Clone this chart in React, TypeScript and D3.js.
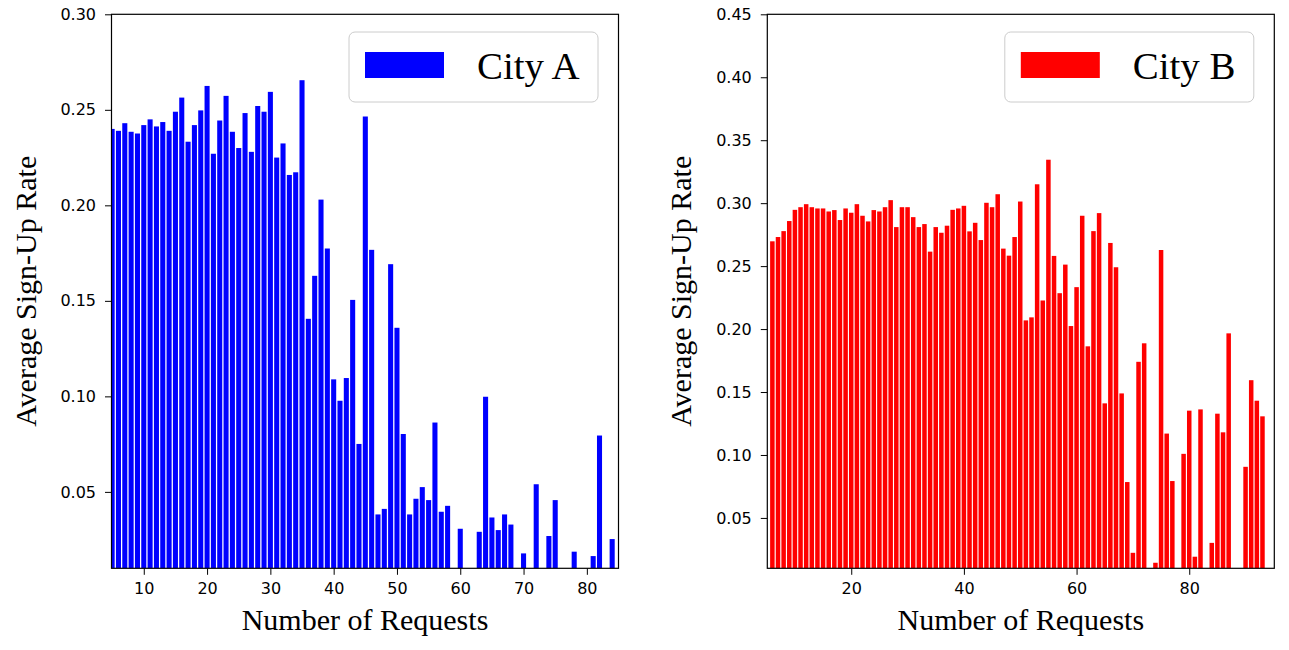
import { useRef, useEffect } from "react";
import * as d3 from "d3";

// requests on the x axis
const cityARequests = d3.range(5, 85);
const cityBRequests = d3.range(6, 94);

// average sign-up rate per request count (null = no bar)
const cityARates: (number | null)[] = [
    0.240, 0.239, 0.243, 0.2385, 0.2376, 0.242, 0.245, 0.2413, 0.2436, 0.239,
    0.249, 0.2564, 0.2333, 0.242, 0.2497, 0.2625, 0.227, 0.2444, 0.2573, 0.2385,
    0.230, 0.2483, 0.228, 0.252, 0.249, 0.2594, 0.225, 0.2324, 0.2159, 0.2173,
    0.2655, 0.1406, 0.1631, 0.203, 0.1774, 0.1089, 0.0977, 0.1096, 0.1505, 0.0751,
    0.2465, 0.1767, 0.0382, 0.0411, 0.1692, 0.1359, 0.0803, 0.0382, 0.0464, 0.0525,
    0.0457, 0.0863, 0.0396, 0.0427, null, 0.0307, null, null, 0.0291, 0.0998,
    0.0366, 0.0300, 0.0382, 0.0329, null, 0.0178, null, 0.054, null, 0.0269,
    0.0457, null, null, 0.0187, null, null, 0.0164, 0.0795, null, 0.0253
];

const cityBRates: (number | null)[] = [
    0.2697, 0.2731, 0.2778, 0.2858, 0.2947, 0.2968, 0.2992, 0.2968, 0.2958, 0.2958,
    0.2934, 0.2945, 0.2866, 0.2958, 0.2924, 0.2992, 0.290, 0.2855, 0.2945, 0.2934,
    0.2968, 0.3024, 0.281, 0.2968, 0.2968, 0.2889, 0.281, 0.2834, 0.2615, 0.281,
    0.2765, 0.2821, 0.2947, 0.2958, 0.2979, 0.2776, 0.2844, 0.2707, 0.3003, 0.2968,
    0.3071, 0.2639, 0.2583, 0.2731, 0.3013, 0.2069, 0.2093, 0.315, 0.2227, 0.3345,
    0.2581, 0.2285, 0.2512, 0.2024, 0.2333, 0.290, 0.1863, 0.2778, 0.2921, 0.141,
    0.2684, 0.2491, 0.1489, 0.0785, 0.0223, 0.174, 0.1887, null, 0.0144, 0.2628,
    0.117, 0.0793, null, 0.1009, 0.1352, 0.0192, 0.1362, null, 0.0302, 0.1328,
    0.118, 0.1966, null, null, 0.0906, 0.1594, 0.1431, 0.1307
];

const cityAXTicks = [10, 20, 30, 40, 50, 60, 70, 80];
const cityBXTicks = [20, 40, 60, 80];
const cityAYTicks = [0.05, 0.10, 0.15, 0.20, 0.25, 0.30];
const cityBYTicks = [0.05, 0.10, 0.15, 0.20, 0.25, 0.30, 0.35, 0.40, 0.45];

type Panel = {
    id: string,
    name: string,
    colour: string,
    requests: number[],
    rates: (number | null)[],
    xDomain: [number, number],
    yDomain: [number, number],
    xTicks: number[],
    yTicks: number[],
    left: number,
    right: number
}

const panels: Panel[] = [
    { id: "a", name: "City A", colour: "#0000ff", requests: cityARequests, rates: cityARates, xDomain: [4.9, 85], yDomain: [0.01, 0.30], xTicks: cityAXTicks, yTicks: cityAYTicks, left: 111.5, right: 618.5 },
    { id: "b", name: "City B", colour: "#ff0000", requests: cityBRequests, rates: cityBRates, xDomain: [5.1, 95.1], yDomain: [0.01, 0.45], xTicks: cityBXTicks, yTicks: cityBYTicks, left: 767.3, right: 1274.3 }
];

const TOP = 14.3;
const BOTTOM = 568.3;
const TICK_FONT = '"DejaVu Sans", sans-serif';
const SERIF = '"Liberation Serif", "Times New Roman", serif';

function App() {
    const svgRef = useRef<SVGSVGElement>(null);

    useEffect(() => {
        const svg = d3.select(svgRef.current);
        svg.selectAll("*").remove();

        panels.forEach(p => {
            const x = d3.scaleLinear().domain(p.xDomain).range([p.left, p.right]);
            const y = d3.scaleLinear().domain(p.yDomain).range([BOTTOM, TOP]);
            const barW = (x(1) - x(0)) * 0.8;

            //clip bars to the axes box
            svg.append("clipPath").attr("id", `clip-${p.id}`)
                .append("rect")
                .attr("x", p.left).attr("y", TOP)
                .attr("width", p.right - p.left).attr("height", BOTTOM - TOP);

            const bars = p.requests
                .map((r, i) => ({ r, v: p.rates[i] }))
                .filter(d => d.v !== null) as { r: number, v: number }[];

            svg.append("g")
                .attr("clip-path", `url(#clip-${p.id})`)
                .selectAll("rect")
                .data(bars)
                .join("rect")
                .attr("x", d => x(d.r) - barW / 2)
                .attr("y", d => y(d.v))
                .attr("width", barW)
                .attr("height", d => BOTTOM - y(d.v))
                .attr("fill", p.colour);

            //x axis
            const xAxis = svg.append("g")
                .attr("transform", `translate(0,${BOTTOM})`)
                .call(d3.axisBottom(x).tickValues(p.xTicks).tickSize(6.5).tickPadding(8).tickFormat(d3.format("d")));
            xAxis.select(".domain").remove();
            xAxis.selectAll("text").attr("font-size", 16).attr("font-family", TICK_FONT).attr("fill", "#000");
            xAxis.selectAll("line").attr("stroke", "#000");

            //y axis
            const yAxis = svg.append("g")
                .attr("transform", `translate(${p.left},0)`)
                .call(d3.axisLeft(y).tickValues(p.yTicks).tickSize(6.5).tickPadding(9).tickFormat(d3.format(".2f")));
            yAxis.select(".domain").remove();
            yAxis.selectAll("text").attr("font-size", 16).attr("font-family", TICK_FONT).attr("fill", "#000");
            yAxis.selectAll("line").attr("stroke", "#000");

            //frame
            svg.append("rect")
                .attr("x", p.left).attr("y", TOP)
                .attr("width", p.right - p.left).attr("height", BOTTOM - TOP)
                .attr("fill", "none").attr("stroke", "#000").attr("stroke-width", 1.2);

            //axis labels
            svg.append("text")
                .attr("x", (p.left + p.right) / 2).attr("y", 630)
                .attr("text-anchor", "middle")
                .attr("font-family", SERIF).attr("font-size", 30)
                .text("Number of Requests");
            svg.append("text")
                .attr("transform", `translate(${p.left - 76},${(TOP + BOTTOM) / 2}) rotate(-90)`)
                .attr("text-anchor", "middle")
                .attr("font-family", SERIF).attr("font-size", 30)
                .text("Average Sign-Up Rate");

            //legend
            const boxR = p.right - 20.5;
            const boxL = boxR - 249;
            const lg = svg.append("g");
            lg.append("rect")
                .attr("x", boxL).attr("y", 32)
                .attr("width", 249).attr("height", 70)
                .attr("rx", 6).attr("ry", 6)
                .attr("fill", "#fff").attr("fill-opacity", 0.8)
                .attr("stroke", "#cccccc").attr("stroke-width", 1);
            lg.append("rect")
                .attr("x", boxL + 16).attr("y", 52)
                .attr("width", 79).attr("height", 26)
                .attr("fill", p.colour);
            lg.append("text")
                .attr("x", boxL + 128).attr("y", 79)
                .attr("font-family", SERIF).attr("font-size", 38.9)
                .text(p.name);
        });
    }, []);

    return (
        <svg ref={svgRef} width={1289} height={650}
            style={{ position: "absolute", left: 0, top: 0, background: "#fff" }}>
        </svg>
    );
}

export default App;
